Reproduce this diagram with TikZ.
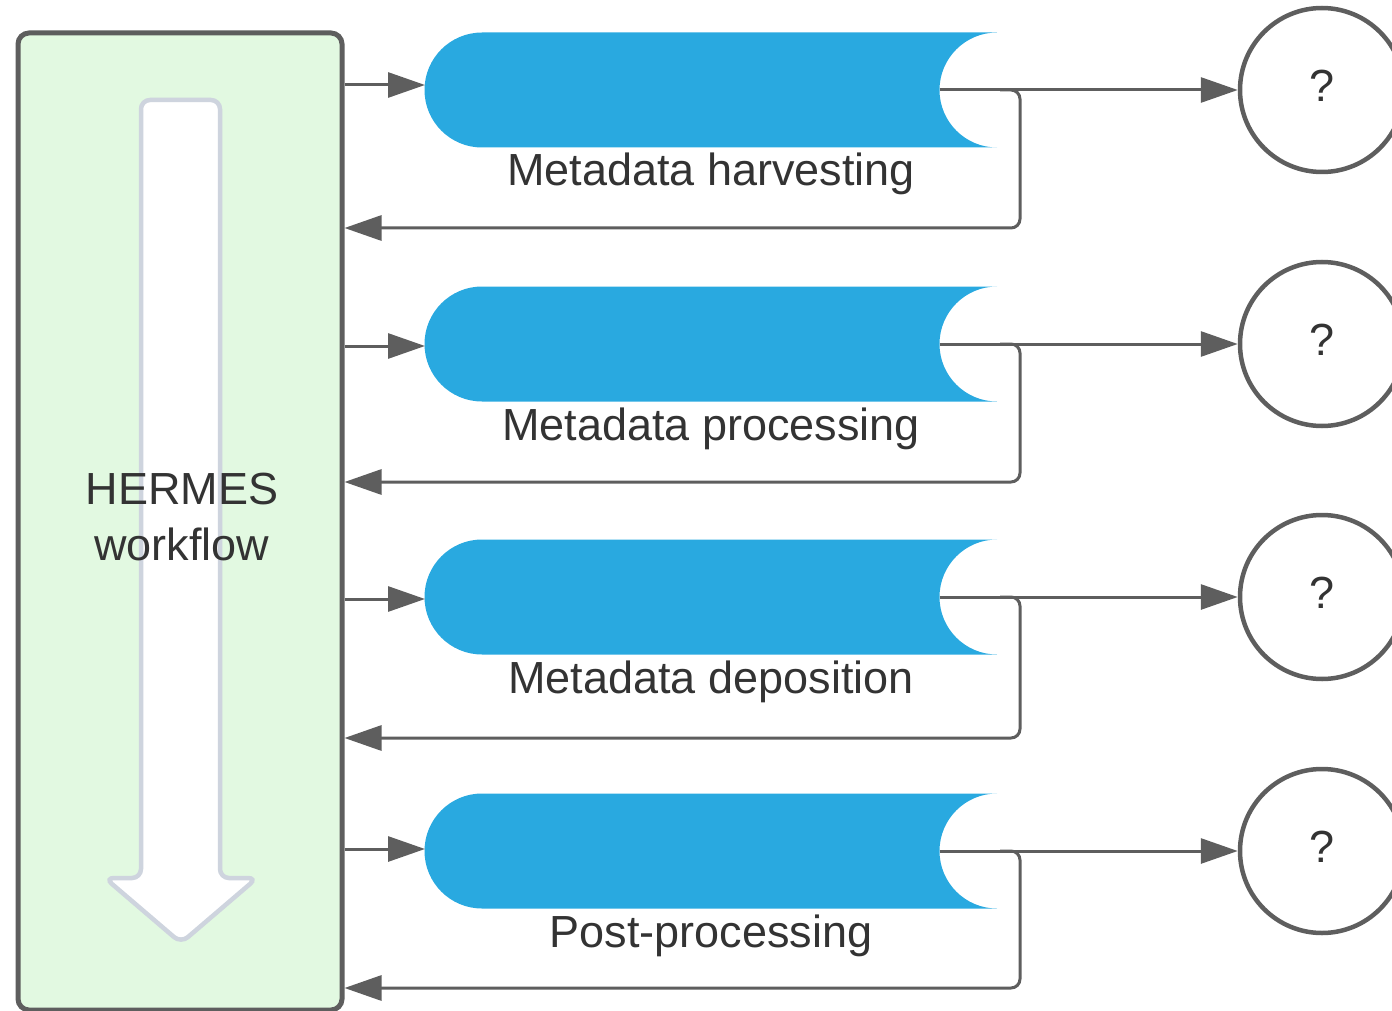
\documentclass[tikz,border=0pt]{standalone}
\usepackage{fontspec}
\setmainfont{Liberation Sans}
\usetikzlibrary{arrows.meta,calc}
\definecolor{boxgreen}{HTML}{E2F9E1}
\definecolor{edgegray}{HTML}{5E5E5E}
\definecolor{lightgray}{HTML}{CED4DE}
\definecolor{stepblue}{HTML}{29A9E0}
\definecolor{txt}{HTML}{333333}
\tikzset{
  conn/.style={draw=edgegray, line width=3pt, -{Triangle[length=37pt,width=25pt]}, color=edgegray},
  lbl/.style={font=\fontsize{45}{56}\selectfont, text=txt, inner sep=0pt},
  qcircle/.style={circle, draw=edgegray, line width=4.5pt, minimum size=164pt, inner sep=0pt},
}
\begin{document}
\begin{tikzpicture}[x=1pt,y=-1pt]
\useasboundingbox (0,0) rectangle (1392,1011);
% workflow box
\node[draw=edgegray, fill=boxgreen, line width=5pt, rounded corners=11pt,
      minimum width=324pt, minimum height=977pt, inner sep=0pt] (box) at (180,521.5) {};
% big down arrow
\draw[lightgray, fill=white, line width=4.5pt, rounded corners=9pt]
  (141,100) -- (220,100) -- (220,878) -- (257,878) -- (181,943) -- (105,878) -- (141,878) -- cycle;
\node[lbl, align=center] (hermes) at (182,517) {HERMES\\workflow};
% rows
\foreach \i/\cy/\iny/\backy/\lab in {0/90/85/228/Metadata harvesting,1/344/346/482/Metadata processing,2/597/599/738/Metadata deposition,3/851/849/988/Post-processing}{
  % blue step shape
  \fill[stepblue] (482,\cy-57.5) -- (997,\cy-57.5)
     arc[start angle=270, end angle=90, radius=57.5]
     -- (482,\cy+57.5)
     arc[start angle=90, end angle=270, radius=57.5] -- cycle;
  \coordinate (in\i) at (425,\iny);
  \coordinate (src\i) at (box.east |- in\i);
  \coordinate (out\i) at (939.5,\cy);
  \coordinate (ret\i) at (1000,\cy);
  \coordinate (back\i) at (box.east |- 0,\backy);
  \node[lbl, anchor=base] (lab\i) at (711,\cy+96) {\lab};
  \node[qcircle] (q\i) at (1322,\cy) {};
  \node[lbl] (qm\i) at (1322,\cy-4) {?};
  \draw[conn] (src\i) -- (in\i);
  \draw[conn] (out\i) -- (q\i);
  \draw[conn, rounded corners=9pt] (ret\i) -- (1020,\cy) -- (1020,\backy) -- (back\i);
}
\end{tikzpicture}
\end{document}
